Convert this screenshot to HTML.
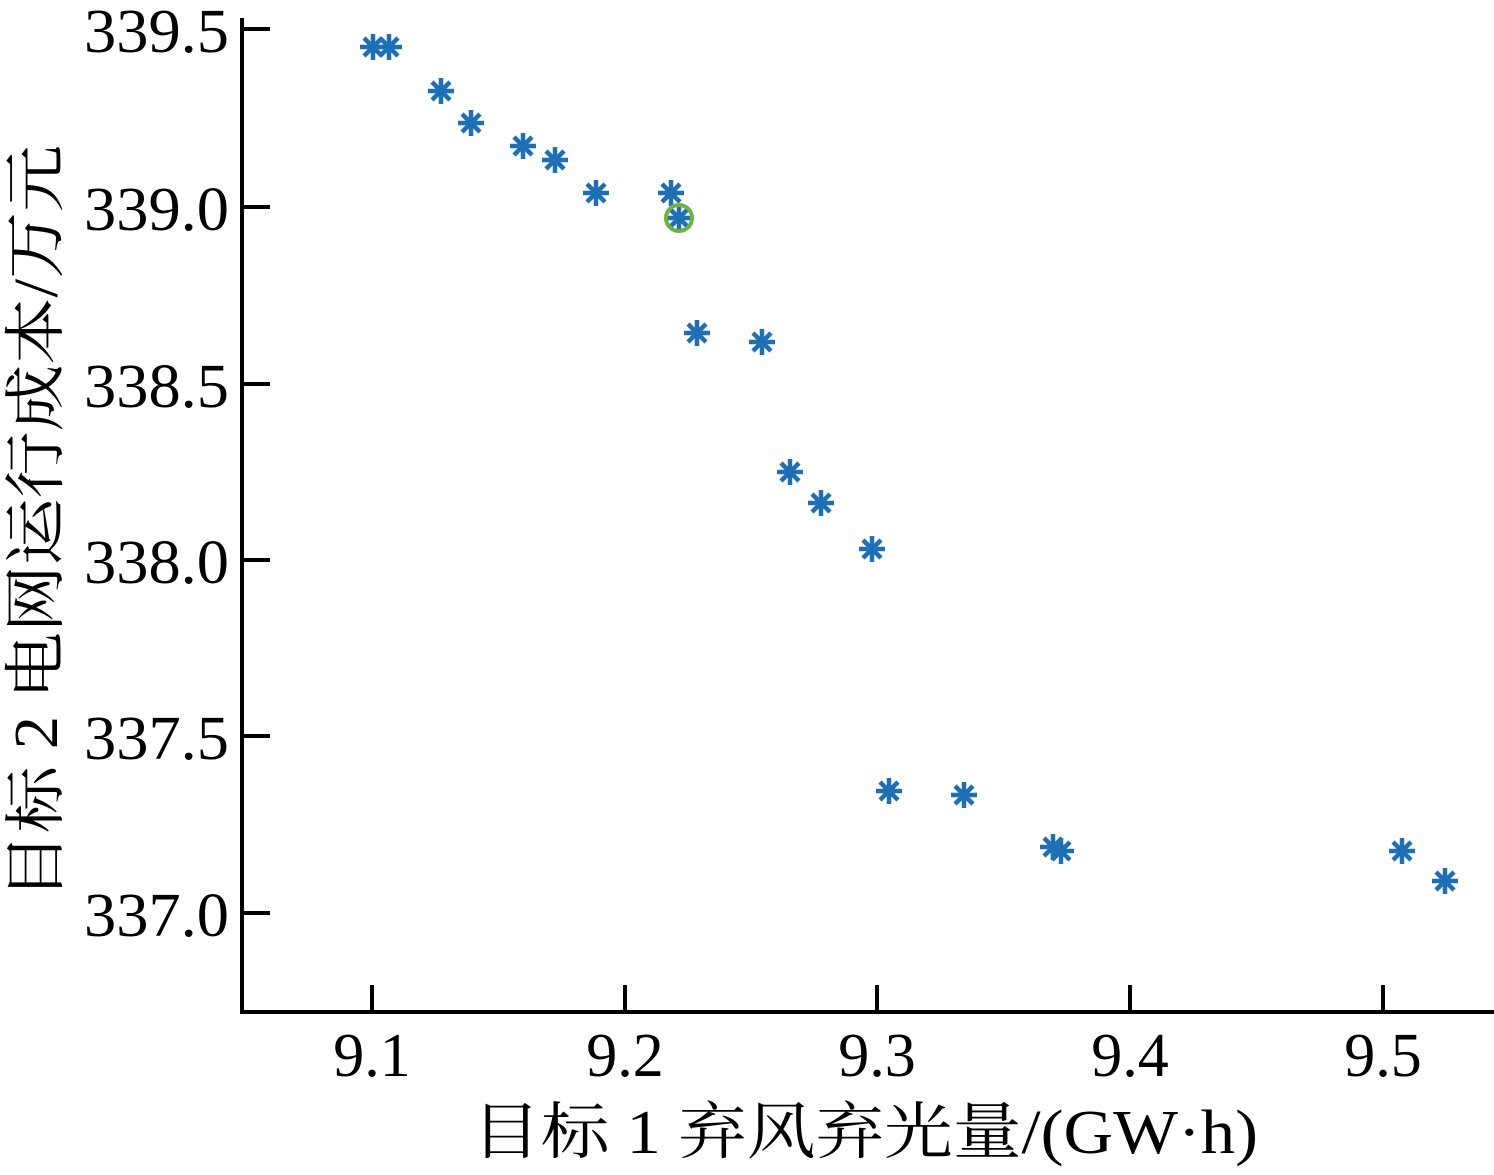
<!DOCTYPE html>
<html><head><meta charset="utf-8"><style>body{margin:0;background:#fff}svg{display:block}
.t{font-family:"Liberation Serif","Noto Serif CJK SC",serif}</style></head>
<body>
<svg width="1494" height="1175" viewBox="0 0 1494 1175" xmlns="http://www.w3.org/2000/svg">
<defs>
<g id="a" stroke="#1f6fb5" stroke-width="4.5" stroke-linecap="butt">
<line x1="-13" y1="0" x2="13" y2="0"/><line x1="0" y1="-13" x2="0" y2="13"/>
<line x1="-9" y1="-9" x2="9" y2="9"/><line x1="-9" y1="9" x2="9" y2="-9"/>
</g>
</defs>
<g stroke="#000" stroke-width="4" fill="none">
<path d="M242 18 V1012 H1494"/>
<path d="M242 29 H270 M242 207 H270 M242 384 H270 M242 560 H270 M242 736 H270 M242 913 H270"/>
<path d="M372 1012 V985 M625 1012 V985 M877 1012 V985 M1130 1012 V985 M1383 1012 V985"/>
</g>
<g class="t" font-size="62" fill="#000" text-anchor="end">
<text x="229" y="52" textLength="145" lengthAdjust="spacingAndGlyphs">339.5</text>
<text x="229" y="230" textLength="145" lengthAdjust="spacingAndGlyphs">339.0</text>
<text x="229" y="407" textLength="145" lengthAdjust="spacingAndGlyphs">338.5</text>
<text x="229" y="583" textLength="145" lengthAdjust="spacingAndGlyphs">338.0</text>
<text x="229" y="759" textLength="145" lengthAdjust="spacingAndGlyphs">337.5</text>
<text x="229" y="936" textLength="145" lengthAdjust="spacingAndGlyphs">337.0</text>
</g>
<g class="t" font-size="62" fill="#000" text-anchor="middle">
<text x="372" y="1076">9.1</text><text x="625" y="1076">9.2</text><text x="877" y="1076">9.3</text><text x="1130" y="1076">9.4</text><text x="1383" y="1076">9.5</text>
</g>
<text class="t" x="472" y="1153" font-size="62" textLength="786" lengthAdjust="spacingAndGlyphs">目标 1 弃风弃光量/(GW·h)</text>
<text class="t" transform="translate(57,900) rotate(-90)" font-size="62" textLength="755" lengthAdjust="spacingAndGlyphs">目标 2 电网运行成本/万元</text>
<g>
<use href="#a" x="373" y="47"/><use href="#a" x="389" y="47"/><use href="#a" x="441" y="91"/><use href="#a" x="471" y="123"/>
<use href="#a" x="523" y="146"/><use href="#a" x="555" y="160"/><use href="#a" x="596" y="193"/><use href="#a" x="671" y="193"/>
<use href="#a" x="679" y="218"/><use href="#a" x="697" y="333"/><use href="#a" x="762" y="342"/><use href="#a" x="790" y="472"/>
<use href="#a" x="821" y="503"/><use href="#a" x="872" y="549"/><use href="#a" x="889" y="791"/><use href="#a" x="964" y="795"/>
<use href="#a" x="1053" y="847"/><use href="#a" x="1061" y="851"/><use href="#a" x="1402" y="851"/><use href="#a" x="1445" y="881"/>
</g>
<circle cx="679" cy="218" r="13" fill="none" stroke="#6cb33f" stroke-width="4"/>
</svg>
</body></html>
